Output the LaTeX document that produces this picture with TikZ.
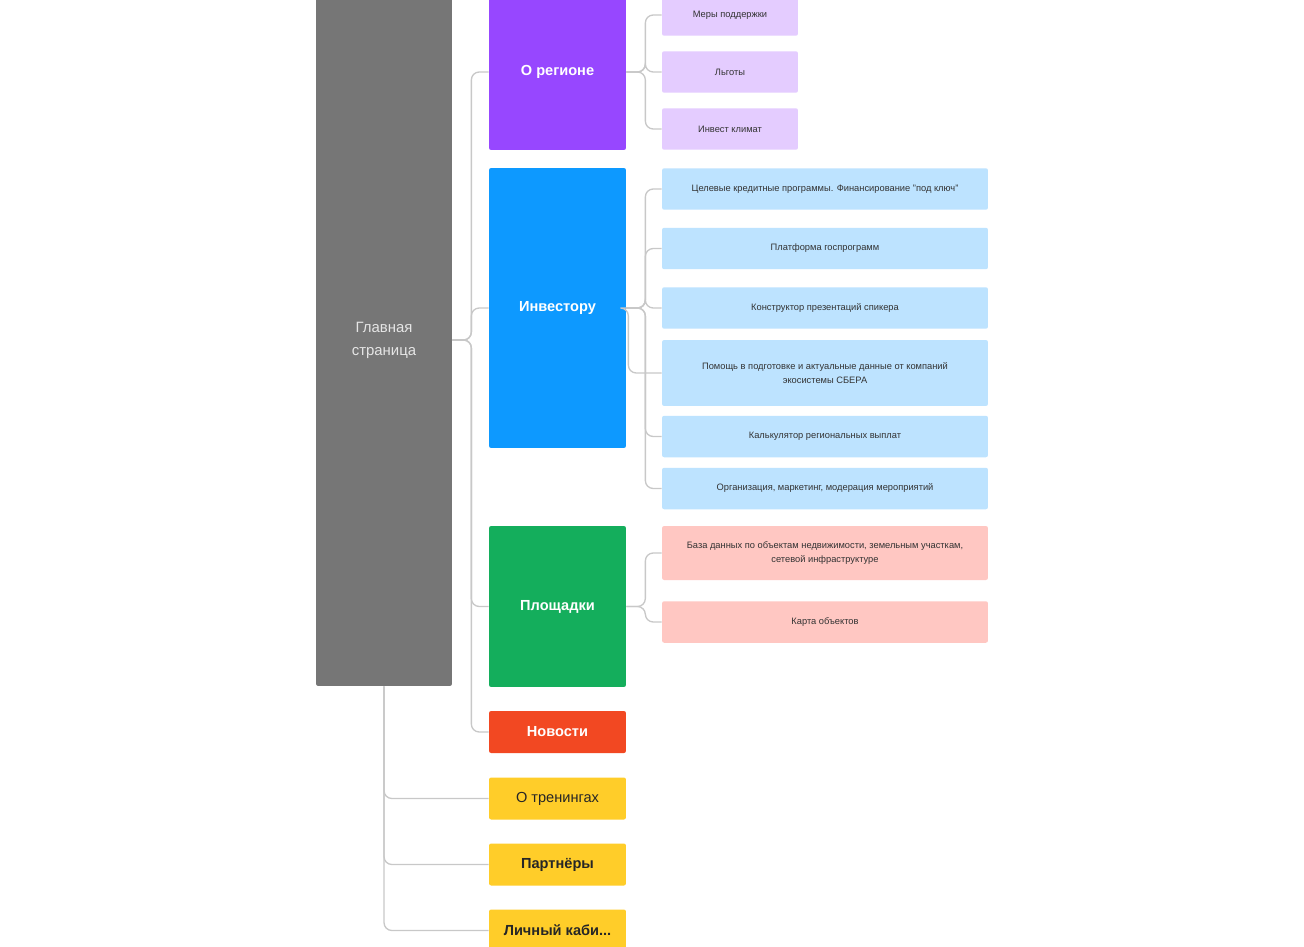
\documentclass[tikz,border=0pt]{standalone}
\usepackage{fontspec}
\setmainfont{Liberation Sans}
\usetikzlibrary{positioning}
\definecolor{grey}{HTML}{767676}
\definecolor{violet}{HTML}{9747FF}
\definecolor{sky}{HTML}{0D99FF}
\definecolor{leaf}{HTML}{14AE5C}
\definecolor{tomato}{HTML}{F24822}
\definecolor{sun}{HTML}{FFCD29}
\definecolor{violetpale}{HTML}{E4CCFF}
\definecolor{skypale}{HTML}{BDE3FF}
\definecolor{tomatopale}{HTML}{FFC7C2}
\definecolor{wire}{HTML}{C8C8C8}
\tikzset{x=0.02cm, y=-0.02cm, % one unit is one pixel of the layout
box/.style={rounded corners=1.2pt, inner sep=0pt, align=center}, % every coloured block
big/.style={box, font=\fontsize{8.3}{13}\selectfont, minimum width=2.74cm}, % first level blocks
bold/.style={big, font=\fontsize{8.3}{13}\selectfont\bfseries}, % first level blocks, bold label
small/.style={box, font=\fontsize{5.3}{7.9}\selectfont, text=black!80, minimum height=0.83cm}, % leaves
line/.style={draw=wire, line width=0.75pt, rounded corners=4.5pt}, % connectors
elbow/.style={to path={(\tikztostart.east) -- ++(#1,0) |- (\tikztotarget.west)}}, % side branch
elbow/.default=19,
drop/.style={to path={(\tikztostart.south) |- (\tikztotarget.west)}}, % branch from the bottom
}

\begin{document}
\begin{tikzpicture}
\clip (0,0) rectangle (1304,946);
\fill[white] (0,0) rectangle (1304,946);
\node[box, fill=grey, text=black!10, font=\fontsize{8.5}{13}\selectfont, minimum width=2.72cm, minimum height=13.84cm] (main) at (384,340) {Главная\\страница};
\node[bold, fill=violet, text=white, minimum height=3.12cm] (reg) at (557.5,72) {О регионе};
\node[bold, fill=sky, text=white, minimum height=5.6cm] (inv) at (557.5,308) {Инвестору};
\node[bold, fill=leaf, text=white, minimum height=3.22cm] (site) at (557.5,606.5) {Площадки};
\node[bold, fill=tomato, text=white, minimum height=0.84cm] (news) at (557.5,732) {Новости};
\node[big, fill=sun, text=black!85, minimum height=0.84cm] (train) at (557.5,798.5) {О тренингах};
\node[bold, fill=sun, text=black!85, minimum height=0.84cm] (part) at (557.5,864.5) {Партнёры};
\node[bold, fill=sun, text=black!85, minimum height=0.84cm] (cab) at (557.5,930.5) {Личный каби...};
% about the region
\node[small, fill=violetpale, minimum width=2.72cm] (r1) at (730,15) {Меры поддержки};
\node[small, fill=violetpale, minimum width=2.72cm] (r2) at (730,72) {Льготы};
\node[small, fill=violetpale, minimum width=2.72cm] (r3) at (730,129) {Инвест климат};
% for the investor
\node[small, fill=skypale, minimum width=6.52cm] (i1) at (825,189) {Целевые кредитные программы. Финансирование "под ключ"};
\node[small, fill=skypale, minimum width=6.52cm] (i2) at (825,248.5) {Платформа госпрограмм};
\node[small, fill=skypale, minimum width=6.52cm] (i3) at (825,308) {Конструктор презентаций спикера};
\node[small, fill=skypale, minimum width=6.52cm, minimum height=1.32cm] (i4) at (825,373) {Помощь в подготовке и актуальные данные от компаний\\экосистемы СБЕРА};
\node[small, fill=skypale, minimum width=6.52cm] (i5) at (825,436.5) {Калькулятор региональных выплат};
\node[small, fill=skypale, minimum width=6.52cm] (i6) at (825,488.5) {Организация, маркетинг, модерация мероприятий};
% sites
\node[small, fill=tomatopale, minimum width=6.52cm, minimum height=1.08cm] (s1) at (825,553) {База данных по объектам недвижимости, земельным участкам,\\сетевой инфраструктуре};
\node[small, fill=tomatopale, minimum width=6.52cm] (s2) at (825,622) {Карта объектов};
\draw[line] (main) edge[elbow] (reg)
(main) edge[elbow] (inv)
(main) edge[elbow] (site)
(main) edge[elbow] (news)
(main) edge[drop] (train)
(main) edge[drop] (part)
(main) edge[drop] (cab)
(reg) edge[elbow] (r1)
(reg) edge[elbow] (r2)
(reg) edge[elbow] (r3)
(inv) edge[elbow] (i1)
(inv) edge[elbow] (i2)
(inv) edge[elbow] (i3)
(inv) edge[elbow=2] (i4)
(inv) edge[elbow] (i5)
(inv) edge[elbow] (i6)
(site) edge[elbow] (s1)
(site) edge[elbow] (s2);
\end{tikzpicture}
\end{document}
